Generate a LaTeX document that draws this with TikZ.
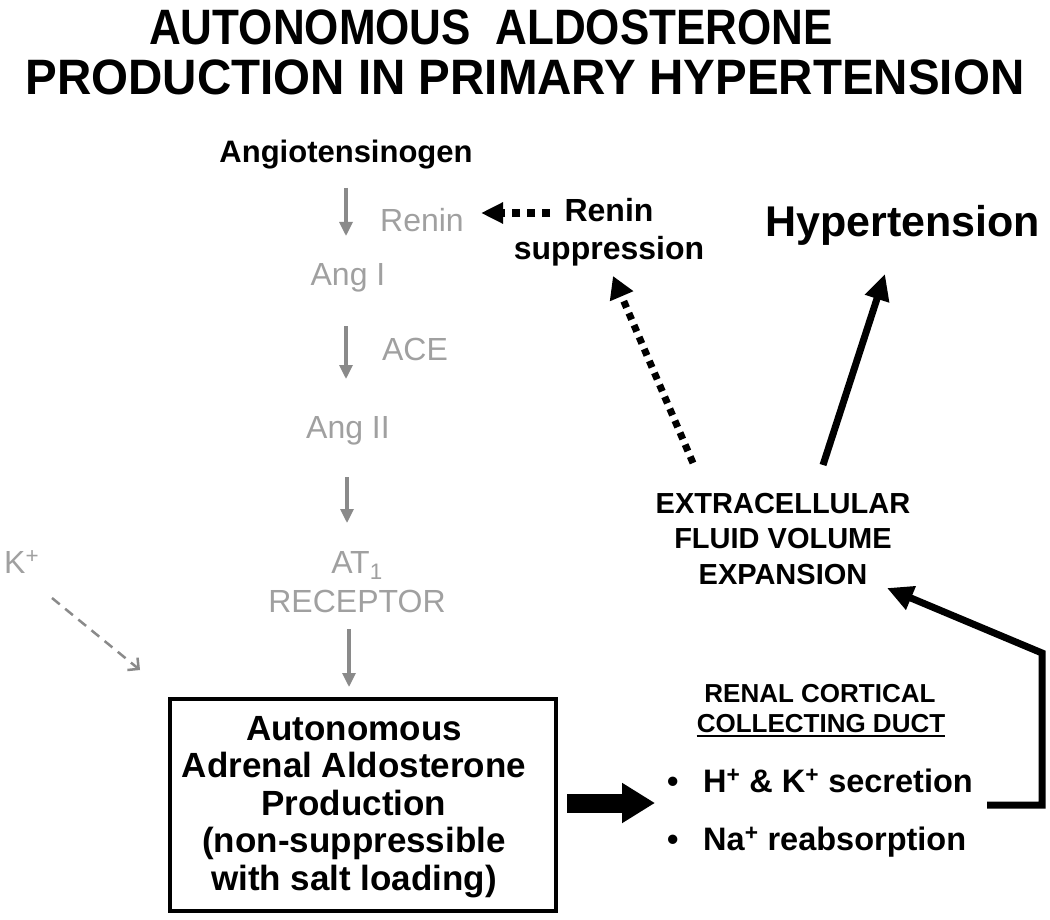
\documentclass[tikz,border=0pt]{standalone}
\usepackage{fontspec}
\setmainfont{Liberation Sans}
\usetikzlibrary{arrows.meta}
\definecolor{gtext}{HTML}{A0A0A0}
\definecolor{garr}{HTML}{8A8A8A}
\begin{document}
\begin{tikzpicture}[x=1pt,y=-1pt,
  txt/.style={inner sep=0pt, anchor=base},
  graytxt/.style={txt, text=gtext, font=\fontsize{32}{38}\selectfont},
  blk/.style={txt, font=\fontsize{#1}{#1}\selectfont\bfseries},
  garrow/.style={draw=garr, line width=3.2, -{Triangle[length=14,width=13]}},
  thick arrow/.style={draw=black, line width=7, -{Triangle[length=26,width=24]}},
  dotted arrow/.style={draw=black, line width=7, dash pattern=on 7 off 6, -{Triangle[length=22,width=24]}}
]
\useasboundingbox (0,0) rectangle (1050,920);

% title
\node[txt] (t1) at (491,45) {\scalebox{1}[1.13]{\fontsize{44}{44}\selectfont\bfseries AUTONOMOUS\ \ ALDOSTERONE}};
\node[txt] (t2) at (525,95) {\scalebox{1.08}[1.13]{\fontsize{44}{44}\selectfont\bfseries PRODUCTION IN PRIMARY HYPERTENSION}};

% RAS cascade
\node[blk=31] (ang) at (346,163) {Angiotensinogen};
\node[graytxt] (renin) at (422,232) {Renin};
\node[graytxt] (angI) at (348,285) {Ang I};
\node[graytxt] (ace) at (415,360) {ACE};
\node[graytxt] (angII) at (348,438) {Ang II};
\node[graytxt] (at1) at (357,573) {AT\textsubscript{1}};
\node[graytxt] (rec) at (357,612) {RECEPTOR};
\node[graytxt, anchor=base west] (kp) at (4,573) {K\textsuperscript{+}};

\coordinate (a1s) at (346,188); \coordinate (a1e) at (346,236);
\coordinate (a2s) at (346,326); \coordinate (a2e) at (346,379);
\coordinate (a3s) at (347,477); \coordinate (a3e) at (347,523);
\coordinate (a4s) at (349,629); \coordinate (a4e) at (349,687);
\draw[garrow] (a1s) -- (a1e);
\draw[garrow] (a2s) -- (a2e);
\draw[garrow] (a3s) -- (a3e);
\draw[garrow] (a4s) -- (a4e);

\coordinate (ks) at (52,598); \coordinate (ke) at (140,670);
\draw[draw=garr, line width=2.5, dash pattern=on 10 off 7, -{Straight Barb[length=8,width=16]}] (ks) -- (ke);

% box
\node[draw, line width=3.5, minimum width=386, minimum height=212, inner sep=0] (box) at (363,805) {};
\node[inner sep=0, align=center, font=\fontsize{35}{37.5}\selectfont\bfseries] (boxtxt) at (354,807)
  {Autonomous\\Adrenal Aldosterone\\Production\\(non-suppressible\\with salt loading)};

% big arrow
\coordinate (bs) at (567,803); \coordinate (be) at (655,803);
\draw[line width=19, -{Triangle[length=33,width=38]}] (bs) -- (be);

% renal cortical collecting duct
\node[blk=26] (rcd1) at (820,702) {RENAL CORTICAL};
\node[blk=26] (rcd2) at (821,732) {COLLECTING DUCT};
\draw[line width=1.8] ([yshift=-4]rcd2.base west) -- ([yshift=-4]rcd2.base east);
\node[blk=32.5, anchor=base west] (b1) at (667,792) {\makebox[36pt][l]{•}H\textsuperscript{+} \& K\textsuperscript{+} secretion};
\node[blk=32.5, anchor=base west] (b2) at (667,850) {\makebox[36pt][l]{•}Na\textsuperscript{+} reabsorption};

% ECF
\node[blk=29] (ecf1) at (783,513) {EXTRACELLULAR};
\node[blk=29] (ecf2) at (783,548) {FLUID VOLUME};
\node[blk=29] (ecf3) at (783,584) {EXPANSION};

% hypertension
\node[blk=43, anchor=base west] (hyp) at (765,237) {Hypertension};

% renin suppression
\node[blk=32] (rs1) at (609,222) {Renin};
\node[blk=32] (rs2) at (609,260) {suppression};

% bracket arrow
\coordinate (br1) at (987,805); \coordinate (br2) at (1042,805); \coordinate (br3) at (1042,653);
\coordinate (br4) at (887,588);
\draw[thick arrow, line join=miter] (br1) -- (br2) -- (br3) -- (br4);

% to hypertension
\coordinate (hs) at (823,465); \coordinate (he) at (885,274);
\draw[thick arrow] (hs) -- (he);

% dotted to renin suppression
\coordinate (ds) at (693,463); \coordinate (de) at (613,276);
\draw[dotted arrow] (ds) -- (de);

% dotted to renin
\coordinate (rs) at (550,213); \coordinate (re) at (481,213);
\draw[draw=black, line width=8, dash pattern=on 8 off 7, -{Triangle[length=22,width=20]}] (rs) -- (re);
\end{tikzpicture}
\end{document}
